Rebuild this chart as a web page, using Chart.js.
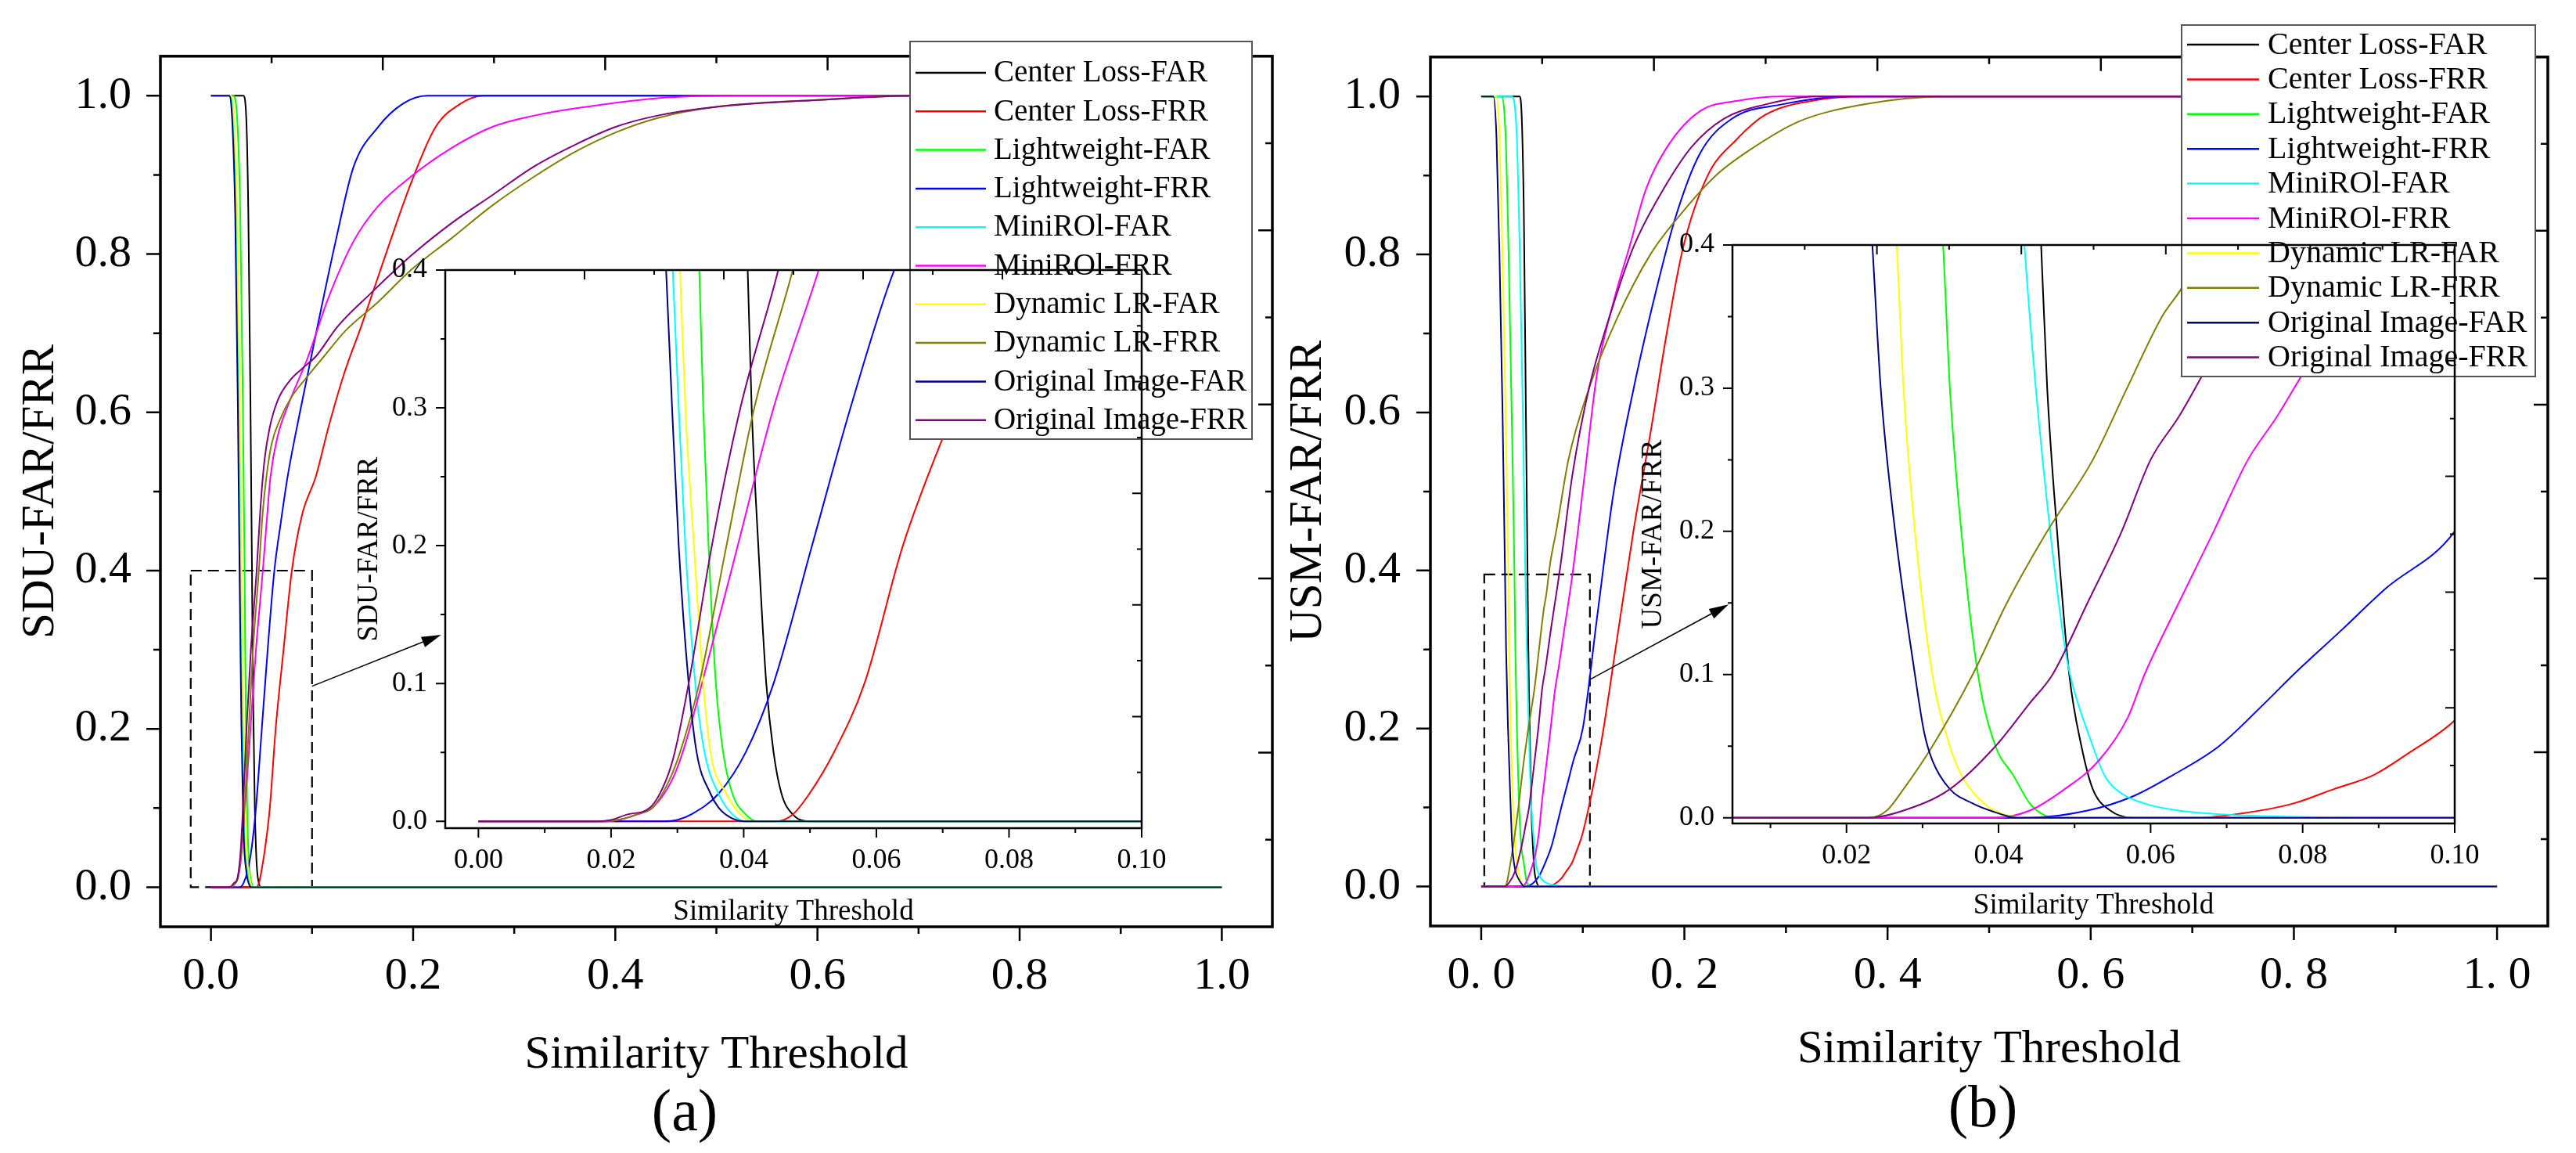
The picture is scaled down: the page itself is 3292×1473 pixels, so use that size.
<!DOCTYPE html>
<html>
<head>
<meta charset="utf-8">
<script src="https://cdn.jsdelivr.net/npm/chart.js@4.4.1/dist/chart.umd.min.js"></script>
<style>
  body { margin: 0; background: #fff; }
  #wrap { position: relative; width: 3292px; height: 1473px; background: #fff; overflow: hidden; }
  canvas { position: absolute; }
</style>
</head>
<body>
<div id="wrap">
  <canvas id="mainA" width="1646" height="1473" style="left:0;top:0"></canvas>
  <canvas id="mainB" width="1646" height="1473" style="left:1646px;top:0"></canvas>
  <canvas id="insetA" width="1200" height="1150" style="left:420px;top:40px"></canvas>
  <canvas id="insetB" width="1200" height="1160" style="left:2060px;top:20px"></canvas>
</div>
<script>
// legend / series
const seriesNames = ['Center Loss-FAR', 'Center Loss-FRR', 'Lightweight-FAR', 'Lightweight-FRR', 'MiniROl-FAR',
                     'MiniROl-FRR', 'Dynamic LR-FAR', 'Dynamic LR-FRR', 'Original Image-FAR', 'Original Image-FRR'];
const seriesColors = ['#000000', '#ff0000', '#00ff00', '#0000ff', '#00ffff',
                      '#ff00ff', '#ffff00', '#808000', '#000080', '#800080'];

// tick values and labels
const mainXTicks = [0, 0.2, 0.4, 0.6, 0.8, 1.0];
const mainXLabelsA = ['0.0', '0.2', '0.4', '0.6', '0.8', '1.0'];
const mainXLabelsB = ['0. 0', '0. 2', '0. 4', '0. 6', '0. 8', '1. 0'];
const mainYTicks = [0, 0.2, 0.4, 0.6, 0.8, 1.0];
const mainYLabels = ['0.0', '0.2', '0.4', '0.6', '0.8', '1.0'];
const insetXTicksA = [0, 0.02, 0.04, 0.06, 0.08, 0.10];
const insetXLabelsA = ['0.00', '0.02', '0.04', '0.06', '0.08', '0.10'];
const insetXTicksB = [0.02, 0.04, 0.06, 0.08, 0.10];
const insetXLabelsB = ['0.02', '0.04', '0.06', '0.08', '0.10'];
const insetYTicks = [0, 0.1, 0.2, 0.3, 0.4];
const insetYLabels = ['0.0', '0.1', '0.2', '0.3', '0.4'];

// (a) SDU  - [threshold, rate]
const sduCenterFAR = [[0,1],[0.032,1],[0.035,0.97],[0.037,0.85],[0.039,0.62],[0.0406,0.4],[0.0412,0.3],[0.0422,0.2],[0.0434,0.1],[0.0445,0.05],[0.0457,0.02],[0.0474,0.005],[0.0499,0],[1,0]];
const sduCenterFRR = [[0,0],[0.0449,0],[0.0474,0.005],[0.0499,0.02],[0.0536,0.05],[0.0582,0.1],[0.064,0.2],[0.0718,0.3],[0.08,0.4],[0.09,0.47],[0.104,0.52],[0.116,0.58],[0.132,0.65],[0.149,0.71],[0.173,0.8],[0.198,0.89],[0.222,0.96],[0.247,0.99],[0.27,1],[1,1]];
const sduLightFAR = [[0,1],[0.022,1],[0.026,0.97],[0.029,0.85],[0.0315,0.62],[0.0333,0.4],[0.0339,0.3],[0.0347,0.2],[0.0358,0.1],[0.0369,0.05],[0.0383,0.02],[0.0403,0.005],[0.042,0],[1,0]];
const sduLightFRR = [[0,0],[0.028,0],[0.030,0.001],[0.0321,0.005],[0.0362,0.02],[0.0403,0.05],[0.0445,0.1],[0.0503,0.2],[0.0561,0.3],[0.0627,0.4],[0.069,0.46],[0.076,0.52],[0.088,0.6],[0.104,0.7],[0.124,0.82],[0.141,0.91],[0.165,0.96],[0.19,0.99],[0.214,1],[1,1]];
const sduMiniFAR = [[0,1],[0.019,1],[0.022,0.97],[0.025,0.85],[0.0275,0.62],[0.0293,0.4],[0.0302,0.3],[0.0312,0.2],[0.0327,0.1],[0.0341,0.05],[0.0362,0.02],[0.0383,0.005],[0.0403,0],[1,0]];
const sduMiniFRR = [[0,0],[0.019,0],[0.022,0.002],[0.024,0.005],[0.0263,0.01],[0.0292,0.03],[0.0308,0.05],[0.0337,0.1],[0.0391,0.2],[0.0445,0.3],[0.0513,0.4],[0.055,0.46],[0.059,0.52],[0.066,0.57],[0.076,0.608],[0.096,0.67],[0.116,0.744],[0.141,0.816],[0.165,0.86],[0.198,0.898],[0.238,0.934],[0.279,0.961],[0.32,0.975],[0.36,0.984],[0.442,0.997],[0.52,1],[1,1]];
const sduDynFAR = [[0,1],[0.02,1],[0.023,0.97],[0.026,0.85],[0.0285,0.62],[0.0304,0.4],[0.0312,0.3],[0.0325,0.2],[0.0339,0.1],[0.035,0.05],[0.0374,0.02],[0.0395,0.005],[0.0412,0],[1,0]];
const sduDynFRR = [[0,0],[0.019,0],[0.022,0.002],[0.0238,0.005],[0.0263,0.01],[0.0288,0.03],[0.0304,0.05],[0.0333,0.1],[0.0374,0.2],[0.0416,0.3],[0.0474,0.4],[0.051,0.47],[0.055,0.52],[0.06,0.56],[0.068,0.59],[0.08,0.62],[0.092,0.64],[0.112,0.671],[0.133,0.703],[0.165,0.739],[0.198,0.78],[0.238,0.82],[0.279,0.862],[0.32,0.898],[0.36,0.929],[0.401,0.954],[0.442,0.972],[0.5,0.986],[0.605,0.995],[0.694,1],[1,1]];
const sduOrigFAR = [[0,1],[0.018,1],[0.021,0.97],[0.024,0.85],[0.0265,0.62],[0.0283,0.4],[0.0292,0.3],[0.0302,0.2],[0.0317,0.1],[0.0329,0.05],[0.035,0.02],[0.0362,0.01],[0.0379,0.003],[0.040,0],[1,0]];
const sduOrigFRR = [[0,0],[0.018,0],[0.02,0.001],[0.0225,0.005],[0.0259,0.01],[0.0283,0.03],[0.0296,0.05],[0.0317,0.1],[0.0352,0.2],[0.0395,0.3],[0.0452,0.4],[0.049,0.48],[0.053,0.54],[0.058,0.58],[0.066,0.615],[0.078,0.64],[0.09,0.655],[0.104,0.671],[0.125,0.708],[0.157,0.749],[0.198,0.798],[0.238,0.839],[0.279,0.875],[0.32,0.911],[0.36,0.938],[0.401,0.961],[0.442,0.975],[0.5,0.986],[0.605,0.995],[0.694,1],[1,1]];

// (b) USM
const usmCenterFAR = [[0,1],[0.038,1],[0.04,0.97],[0.042,0.85],[0.044,0.6],[0.0456,0.4],[0.0464,0.3],[0.0477,0.2],[0.0493,0.1],[0.0509,0.05],[0.0524,0.02],[0.0547,0.005],[0.0577,0],[1,0]];
const usmCenterFRR = [[0,0],[0.066,0],[0.072,0.003],[0.0788,0.01],[0.0841,0.02],[0.0894,0.03],[0.0939,0.045],[0.1,0.068],[0.118,0.181],[0.134,0.316],[0.15,0.451],[0.167,0.577],[0.183,0.703],[0.199,0.81],[0.223,0.9],[0.251,0.945],[0.28,0.977],[0.328,0.995],[0.377,1],[1,1]];
const usmLightFAR = [[0,1],[0.02,1],[0.024,0.95],[0.027,0.8],[0.030,0.6],[0.0327,0.4],[0.0336,0.3],[0.0351,0.2],[0.0373,0.1],[0.0396,0.05],[0.0419,0.03],[0.0441,0.01],[0.0456,0.003],[0.0471,0],[1,0]];
const usmLightFRR = [[0,0],[0.044,0],[0.0517,0.005],[0.0577,0.015],[0.063,0.03],[0.069,0.05],[0.075,0.08],[0.0788,0.1],[0.0849,0.13],[0.0909,0.16],[0.1,0.2],[0.114,0.34],[0.13,0.496],[0.15,0.63],[0.171,0.748],[0.191,0.846],[0.215,0.927],[0.247,0.972],[0.296,0.99],[0.361,1],[1,1]];
const usmMiniFAR = [[0,1],[0.03,1],[0.035,0.95],[0.038,0.8],[0.041,0.6],[0.0434,0.4],[0.0449,0.3],[0.0468,0.2],[0.0487,0.12],[0.0494,0.1],[0.0524,0.05],[0.0539,0.03],[0.0554,0.02],[0.0592,0.01],[0.0637,0.005],[0.0705,0.002],[0.0758,0.001],[0.0871,0],[1,0]];
const usmMiniFRR = [[0,0],[0.0396,0],[0.0441,0.005],[0.0487,0.02],[0.0532,0.04],[0.057,0.07],[0.0592,0.1],[0.0637,0.15],[0.0683,0.2],[0.0728,0.25],[0.0766,0.28],[0.08,0.31],[0.09,0.397],[0.102,0.523],[0.114,0.649],[0.13,0.739],[0.146,0.81],[0.162,0.882],[0.183,0.936],[0.215,0.981],[0.255,0.995],[0.296,1],[1,1]];
const usmDynFAR = [[0,1],[0.015,1],[0.018,0.95],[0.021,0.8],[0.024,0.6],[0.0266,0.4],[0.0275,0.3],[0.029,0.2],[0.0313,0.1],[0.0336,0.05],[0.0351,0.03],[0.0381,0.01],[0.0404,0.003],[0.0434,0],[1,0]];
const usmDynFRR = [[0,0],[0.023,0],[0.0253,0.005],[0.0275,0.02],[0.0313,0.05],[0.0366,0.1],[0.0411,0.15],[0.0464,0.2],[0.0524,0.25],[0.0569,0.3],[0.0615,0.35],[0.0641,0.37],[0.068,0.41],[0.074,0.451],[0.086,0.541],[0.106,0.63],[0.134,0.72],[0.167,0.801],[0.199,0.855],[0.231,0.9],[0.264,0.932],[0.312,0.968],[0.377,0.99],[0.458,1],[1,1]];
const usmOrigFAR = [[0,1],[0.012,1],[0.015,0.95],[0.018,0.8],[0.021,0.6],[0.0234,0.4],[0.0245,0.3],[0.0264,0.2],[0.029,0.1],[0.0302,0.06],[0.0313,0.04],[0.0336,0.02],[0.0366,0.01],[0.0389,0.005],[0.0426,0],[1,0]];
const usmOrigFRR = [[0,0],[0.023,0],[0.0275,0.005],[0.0336,0.02],[0.0396,0.05],[0.0441,0.08],[0.0471,0.1],[0.0517,0.15],[0.0562,0.2],[0.06,0.25],[0.0637,0.28],[0.068,0.32],[0.078,0.406],[0.09,0.523],[0.106,0.63],[0.126,0.72],[0.15,0.81],[0.175,0.873],[0.207,0.936],[0.239,0.972],[0.28,0.99],[0.328,1],[1,1]];

const sduSeries = [sduCenterFAR, sduCenterFRR, sduLightFAR, sduLightFRR, sduMiniFAR, sduMiniFRR, sduDynFAR, sduDynFRR, sduOrigFAR, sduOrigFRR];
const usmSeries = [usmCenterFAR, usmCenterFRR, usmLightFAR, usmLightFRR, usmMiniFAR, usmMiniFRR, usmDynFAR, usmDynFRR, usmOrigFAR, usmOrigFRR];

// zoom box [xmin, xmax, ymin, ymax] and arrow [from, to] in main-axis units
const zoomBoxA = [-0.02, 0.1, 0, 0.4];
const zoomBoxB = [0.003, 0.107, 0, 0.395];
const arrowA = [[0.1, 0.254], [0.2277, 0.319]];
const arrowB = [[0.107, 0.262], [0.2435, 0.357]];

const serif = "'Liberation Serif', 'Times New Roman', serif";
Chart.defaults.font.family = serif;
Chart.defaults.color = '#000';

function makeDatasets(series) {
    return series.map((d, i) => ({
        label: seriesNames[i],
        data: d,
        borderColor: seriesColors[i],
        borderWidth: 2,
        pointRadius: 0,
        cubicInterpolationMode: 'monotone',
        fill: false,
        order: -i   // later series on top, like the original
    }));
}

// frame + tick marks (bottom/left outward, top/right inward)
function drawFrame(chart, o) {
    const { ctx, chartArea: a, scales: s } = chart;
    const marks = (scale, from, to, step, fn) => {
        for (let k = Math.round(from / step); k <= Math.round(to / step); k++) {
            fn(scale.getPixelForValue(k * step), k % 2 === 0 ? o.major : o.minor);
        }
    };
    ctx.save();
    ctx.strokeStyle = '#000';
    ctx.lineWidth = o.tickWidth;
    ctx.beginPath();
    marks(s.x, o.x[0], o.x[1], o.x[2], (p, len) => { ctx.moveTo(p, a.bottom); ctx.lineTo(p, a.bottom + len); });
    marks(s.y, o.y[0], o.y[1], o.y[2], (p, len) => { ctx.moveTo(a.left, p); ctx.lineTo(a.left - len, p); });
    marks(s.x2, 0.1, 0.9, 0.1, (p, len) => { ctx.moveTo(p, a.top); ctx.lineTo(p, a.top + len); });
    marks(s.y2, 0.1, 0.9, 0.1, (p, len) => { ctx.moveTo(a.right, p); ctx.lineTo(a.right - len, p); });
    ctx.stroke();
    ctx.lineWidth = o.frameWidth;
    ctx.strokeRect(a.left, a.top, a.right - a.left, a.bottom - a.top);
    ctx.restore();
}

function drawLegend(ctx, L) {
    ctx.save();
    ctx.fillStyle = '#fff';
    ctx.fillRect(L.x, L.y, L.w, L.h);
    ctx.strokeStyle = '#555';
    ctx.lineWidth = 2;
    ctx.strokeRect(L.x, L.y, L.w, L.h);
    ctx.font = L.size + 'px ' + serif;
    ctx.textAlign = 'left';
    ctx.textBaseline = 'middle';
    seriesNames.forEach((name, i) => {
        const y = L.row0 + i * L.gap;
        ctx.strokeStyle = seriesColors[i];
        ctx.lineWidth = 2.5;
        ctx.beginPath();
        ctx.moveTo(L.line0, y);
        ctx.lineTo(L.line1, y);
        ctx.stroke();
        ctx.fillStyle = '#000';
        ctx.fillText(name, L.textX, y + 1);
    });
    ctx.restore();
}

function mainChart(id, series, o) {
    const decor = {
        id: 'decor',
        beforeDatasetsDraw(chart) {
            const { ctx, scales: { x, y } } = chart;
            const b = o.box;
            const x0 = x.getPixelForValue(b[0]), x1 = x.getPixelForValue(b[1]);
            const y0 = y.getPixelForValue(b[2]), y1 = y.getPixelForValue(b[3]);
            ctx.save();
            ctx.strokeStyle = '#000';
            ctx.lineWidth = 2.2;
            ctx.setLineDash([14, 8]);
            ctx.strokeRect(x0, y1, x1 - x0, y0 - y1);
            ctx.restore();
        },
        afterDraw(chart) {
            drawFrame(chart, { x: [0, 1, 0.1], y: [0, 1, 0.1], major: 18, minor: 9, tickWidth: 2.5, frameWidth: 3.5 });
            const { ctx, scales: { x, y } } = chart;
            const sx = x.getPixelForValue(o.arrow[0][0]), sy = y.getPixelForValue(o.arrow[0][1]);
            const ex = x.getPixelForValue(o.arrow[1][0]), ey = y.getPixelForValue(o.arrow[1][1]);
            const ang = Math.atan2(ey - sy, ex - sx);
            ctx.save();
            ctx.strokeStyle = '#000';
            ctx.fillStyle = '#000';
            ctx.lineWidth = 1.6;
            ctx.beginPath();
            ctx.moveTo(sx, sy);
            ctx.lineTo(ex - 20 * Math.cos(ang), ey - 20 * Math.sin(ang));
            ctx.stroke();
            ctx.beginPath();
            ctx.moveTo(ex, ey);
            ctx.lineTo(ex - 25 * Math.cos(ang) + 7 * Math.sin(ang), ey - 25 * Math.sin(ang) - 7 * Math.cos(ang));
            ctx.lineTo(ex - 25 * Math.cos(ang) - 7 * Math.sin(ang), ey - 25 * Math.sin(ang) + 7 * Math.cos(ang));
            ctx.closePath();
            ctx.fill();
            ctx.font = '76px ' + serif;
            ctx.textAlign = 'center';
            ctx.textBaseline = 'middle';
            ctx.fillText(o.panel, o.panelX, o.panelY);
            ctx.restore();
        }
    };
    return new Chart(document.getElementById(id), {
        type: 'line',
        data: { datasets: makeDatasets(series) },
        options: {
            animation: false,
            responsive: false,
            events: [],
            layout: { padding: { left: 0, top: o.top, right: o.right, bottom: 0 } },
            plugins: { legend: { display: false }, tooltip: { enabled: false } },
            scales: {
                x: {
                    type: 'linear', min: -0.05, max: 1.05,
                    afterBuildTicks: s => { s.ticks = mainXTicks.map(v => ({ value: v })); },
                    afterFit: s => { s.height = o.xHeight; },
                    grid: { display: false, drawTicks: false },
                    border: { display: false },
                    ticks: { autoSkip: false, maxRotation: 0, padding: 29, font: { size: 58 }, callback: (v, i) => o.xLabels[i] },
                    title: { display: true, text: 'Similarity Threshold', font: { size: 59 }, padding: { top: 0, bottom: o.xTitlePad } }
                },
                y: {
                    type: 'linear', min: -0.05, max: 1.05,
                    afterBuildTicks: s => { s.ticks = mainYTicks.map(v => ({ value: v })); },
                    afterFit: s => { s.width = o.yWidth; },
                    grid: { display: false, drawTicks: false },
                    border: { display: false },
                    ticks: { autoSkip: false, padding: o.yPad, font: { size: 58 }, callback: (v, i) => mainYLabels[i] },
                    title: { display: true, text: o.yTitle, font: { size: 59, lineHeight: 0.8 }, padding: { top: o.yTitlePad, bottom: 0 } }
                },
                x2: { type: 'linear', position: 'top', min: 0, max: 1, display: false },
                y2: { type: 'linear', position: 'right', min: 0, max: 1, display: false }
            }
        },
        plugins: [decor]
    });
}

function insetChart(id, series, o) {
    const decor = {
        id: 'insetDecor',
        afterDatasetsDraw(chart) { drawLegend(chart.ctx, o.legend); },
        afterDraw(chart) {
            drawFrame(chart, { x: o.marksX, y: [0, 0.4, 0.05], major: 12, minor: 6, tickWidth: 2, frameWidth: 2.5 });
        }
    };
    return new Chart(document.getElementById(id), {
        type: 'line',
        data: { datasets: makeDatasets(series) },
        options: {
            animation: false,
            responsive: false,
            events: [],
            layout: { padding: { left: 0, top: o.top, right: o.right, bottom: 0 } },
            plugins: { legend: { display: false }, tooltip: { enabled: false } },
            scales: {
                x: {
                    type: 'linear', min: o.xMin, max: 0.1,
                    afterBuildTicks: s => { s.ticks = o.xTicks.map(v => ({ value: v })); },
                    afterFit: s => { s.height = o.xHeight; },
                    grid: { display: false, drawTicks: false },
                    border: { display: false },
                    ticks: { autoSkip: false, maxRotation: 0, padding: 20, font: { size: 36 }, callback: (v, i) => o.xLabels[i] },
                    title: { display: true, text: 'Similarity Threshold', font: { size: 37 }, padding: { top: 0, bottom: o.xTitlePad } }
                },
                y: {
                    type: 'linear', min: o.yMin, max: 0.4,
                    afterBuildTicks: s => { s.ticks = insetYTicks.map(v => ({ value: v })); },
                    afterFit: s => { s.width = o.yWidth; },
                    grid: { display: false, drawTicks: false },
                    border: { display: false },
                    ticks: { autoSkip: false, padding: 23, font: { size: 36 }, callback: (v, i) => insetYLabels[i] },
                    title: { display: true, text: o.yTitle, font: { size: 37 }, padding: { top: o.yTitlePad, bottom: 0 } }
                },
                x2: { type: 'linear', position: 'top', min: 0, max: 1, display: false },
                y2: { type: 'linear', position: 'right', min: 0, max: 1, display: false }
            }
        },
        plugins: [decor]
    });
}

mainChart('mainA', sduSeries, {
    top: 40, right: 20, xHeight: 289, yWidth: 205, yPad: 37,
    xLabels: mainXLabelsA, xTitlePad: 89.6, yTitle: 'SDU-FAR/FRR', yTitlePad: 28.4,
    box: zoomBoxA, arrow: arrowA, panel: '(a)', panelX: 875, panelY: 1424
});
mainChart('mainB', usmSeries, {
    top: 32, right: 36, xHeight: 290, yWidth: 182, yPad: 38,
    xLabels: mainXLabelsB, xTitlePad: 96.6, yTitle: 'USM-FAR/FRR', yTitlePad: 2.4,
    box: zoomBoxB, arrow: arrowB, panel: '(b)', panelX: 888, panelY: 1419
});
insetChart('insetA', sduSeries, {
    top: 305, right: 161, xHeight: 132, yWidth: 149,
    xMin: -0.005, yMin: -0.005, xTicks: insetXTicksA, xLabels: insetXLabelsA, marksX: [0, 0.1, 0.01],
    xTitlePad: 2.8, yTitle: 'SDU-FAR/FRR', yTitlePad: 29.8,
    legend: { x: 743, y: 13, w: 437, h: 508, row0: 53, gap: 49.3, line0: 750, line1: 840, textX: 850, size: 39 }
});
insetChart('insetB', usmSeries, {
    top: 293, right: 123, xHeight: 128, yWidth: 154,
    xMin: 0.005, yMin: -0.004, xTicks: insetXTicksB, xLabels: insetXLabelsB, marksX: [0.01, 0.1, 0.01],
    xTitlePad: 0.8, yTitle: 'USM-FAR/FRR', yTitlePad: 30.8,
    legend: { x: 728, y: 12, w: 452, h: 449, row0: 37, gap: 44.4, line0: 735, line1: 827, textX: 838, size: 40 }
});
</script>
</body>
</html>
